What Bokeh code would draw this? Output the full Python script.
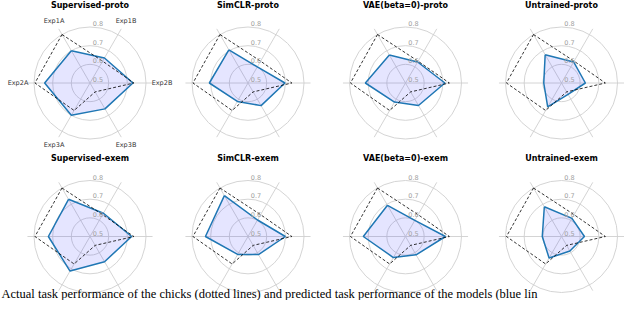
import numpy as np
from bokeh.plotting import figure
from bokeh.models import Range1d
from bokeh.core.properties import value
from bokeh.embed import file_html
from bokeh.resources import INLINE

# ---------------- data ----------------
categories = ["Exp1A", "Exp1B", "Exp2B", "Exp3B", "Exp3A", "Exp2A"]
angles_deg = [120, 60, 0, 300, 240, 180]
chick = [0.800, 0.635, 0.735, 0.555, 0.670, 0.795]

titles = ["Supervised-proto", "SimCLR-proto", "VAE(beta=0)-proto", "Untrained-proto",
          "Supervised-exem", "SimCLR-exem", "VAE(beta=0)-exem", "Untrained-exem"]
supervised_proto = [0.700, 0.655, 0.730, 0.660, 0.700, 0.743]
simclr_proto = [0.705, 0.600, 0.698, 0.640, 0.614, 0.707]
vae_proto = [0.673, 0.630, 0.711, 0.639, 0.618, 0.715]
untrained_proto = [0.675, 0.630, 0.628, 0.570, 0.648, 0.595]
supervised_exem = [0.730, 0.644, 0.723, 0.656, 0.714, 0.723]
simclr_exem = [0.753, 0.602, 0.700, 0.612, 0.611, 0.728]
vae_exem = [0.693, 0.600, 0.714, 0.613, 0.630, 0.726]
untrained_exem = [0.684, 0.612, 0.623, 0.590, 0.633, 0.603]
models = [supervised_proto, simclr_proto, vae_proto, untrained_proto,
          supervised_exem, simclr_exem, vae_exem, untrained_exem]

r_ticks = [0.5, 0.6, 0.7, 0.8]
tick_labels = ["0.5", "0.6", "0.7", "0.8"]
r_min, r_max = 0.5, 0.835

caption = ("Actual task performance of the chicks (dotted lines) and predicted task "
           "performance of the models (blue lin")

# ---------------- layout ----------------
col_x = [89.5, 247.5, 405.0, 561.0]
row_y = [82.5, 236.0]
PX = 56.0 / 0.3          # pixels per unit of radius
LABEL_R = 72.0

p = figure(width=624, height=300, x_range=Range1d(0, 624), y_range=Range1d(300, 0),
           output_backend="svg", toolbar_location=None, min_border=0,
           x_axis_type=None, y_axis_type=None)
p.grid.visible = False
p.outline_line_color = None
p.background_fill_color = "white"
p.border_fill_color = "white"

th = np.radians(angles_deg)


def rad(v):
    return (np.asarray(v, dtype=float) - r_min) * PX


font = value("DejaVu Sans")

for k, (title, model) in enumerate(zip(titles, models)):
    cx = col_x[k % 4]
    cy = row_y[k // 4]

    # grid rings
    ring_vals = [v for v in r_ticks if v > r_min]
    p.circle(x=[cx] * len(ring_vals), y=[cy] * len(ring_vals), radius=list(rad(ring_vals)),
             fill_color=None, line_color="#cfcfcf", line_width=0.9)
    # spokes
    rm = rad(r_max)
    p.segment(x0=[cx] * 6, y0=[cy] * 6,
              x1=list(cx + rm * np.cos(th)), y1=list(cy - rm * np.sin(th)),
              line_color="#cfcfcf", line_width=0.9)

    # model polygon
    rr = rad(model)
    mx = list(cx + rr * np.cos(th))
    my = list(cy - rr * np.sin(th))
    p.patch(x=mx, y=my, fill_color="blue", fill_alpha=0.1, line_color=None)
    p.line(x=mx + [mx[0]], y=my + [my[0]], line_color="#1f77b4", line_width=1.5)

    # chick polygon (dashed)
    rc = rad(chick)
    qx = list(cx + rc * np.cos(th))
    qy = list(cy - rc * np.sin(th))
    p.line(x=qx + [qx[0]], y=qy + [qy[0]], line_color="black", line_width=0.8,
           line_dash="3 2")

    # radial tick labels
    rt = rad(r_ticks)
    p.text(x=[cx + 8] * len(r_ticks), y=list(cy - rt - 3.5), text=tick_labels,
           text_font=font, text_font_size="6.5px", text_color="#a0a0a0",
           text_align="center", text_baseline="middle")

    # title
    p.text(x=[cx], y=[cy - 78], text=[title], text_font=font, text_font_size="8px",
           text_font_style="bold", text_color="black",
           text_align="center", text_baseline="middle")

    # category labels only on first panel
    if k == 0:
        p.text(x=list(cx + LABEL_R * np.cos(th)), y=list(cy - LABEL_R * np.sin(th)),
               text=categories, text_font=font, text_font_size="6.5px", text_color="#333333",
               text_align="center", text_baseline="middle")

# caption below the panels
p.text(x=[1], y=[300], text=[caption], text_font=value("Liberation Serif"),
       text_font_size="12.5px", text_color="black", text_align="left", text_baseline="bottom")

open("out.html", "w").write(file_html(p, INLINE))
